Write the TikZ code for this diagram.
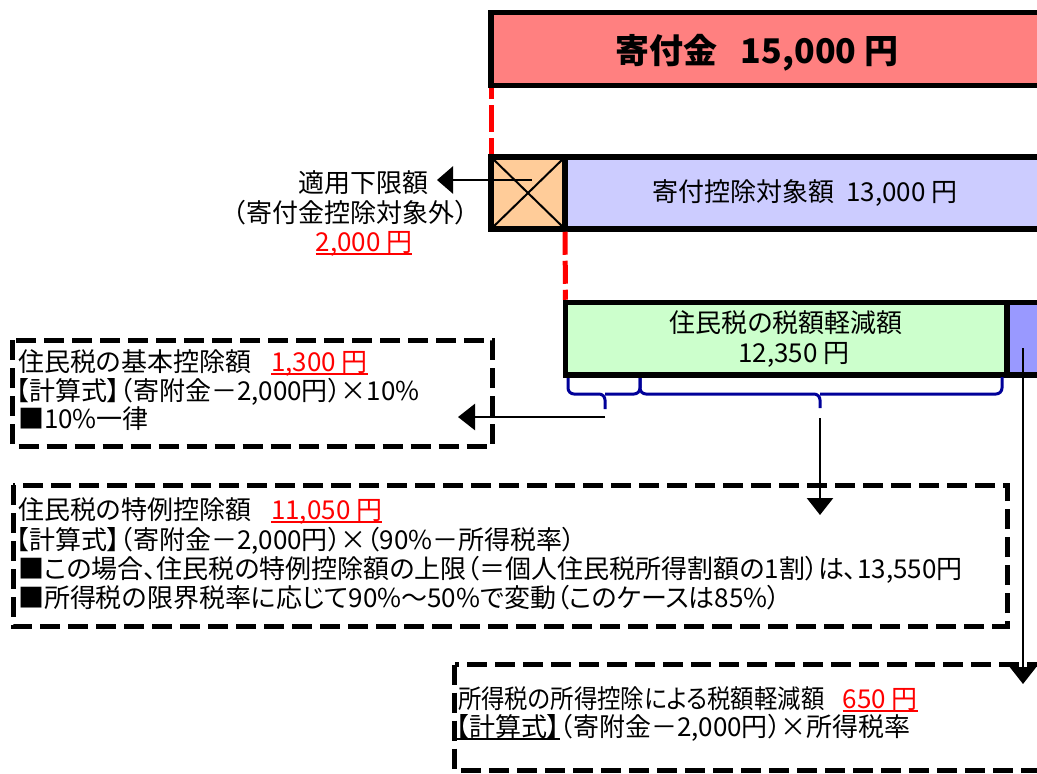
\documentclass[tikz,border=0pt]{standalone}
\usepackage{fontspec}
\setmainfont{Noto Sans CJK JP}[RawFeature=+palt]
\newfontfamily\jpfull{Noto Sans CJK JP}
\usetikzlibrary{arrows.meta}
\definecolor{boxred}{HTML}{FF8080}
\definecolor{boxorange}{HTML}{FFCC99}
\definecolor{boxblue}{HTML}{CCCCFF}
\definecolor{boxgreen}{HTML}{CCFFCC}
\definecolor{boxpurple}{HTML}{9999FF}
\definecolor{bracenavy}{HTML}{000099}
\definecolor{txtred}{HTML}{FF0000}
\newcommand{\myul}[1]{\leavevmode\setbox0=\hbox{#1}\rlap{\rule[-4pt]{\wd0}{1.8pt}}\box0}
\newcommand{\redul}[1]{{\color{txtred}\myul{#1}}}
\begin{document}
\begin{tikzpicture}[x=1pt,y=-1pt,
  solidbox/.style={draw=black, line width=5.5pt, rectangle, inner sep=0pt, outer sep=0pt, anchor=north west},
  dashbox/.style={draw=black, line width=5pt, dash pattern=on 20pt off 8pt},
  reddash/.style={draw=txtred, line width=5pt},
  txt/.style={font=\fontsize{26}{30}\selectfont, inner sep=0pt, outer sep=0pt},
  arr/.style={draw=black, line width=2.6pt, -{Triangle[length=17pt,width=26pt]}},
  bracestyle/.style={draw=bracenavy, line width=3pt, rounded corners=6pt}]
\path[use as bounding box, clip] (0,0) rectangle (1037,774);

% top boxes
\node[solidbox, fill=boxred, minimum width=569pt, minimum height=73pt] (top) at (491,12.5) {};
\node[txt, font=\fontsize{34}{40}\selectfont\bfseries, anchor=base west] (ttl) at (615,63) {寄付金\hspace{24pt}15,000 円};

\node[solidbox, fill=boxblue, minimum width=495pt, minimum height=72pt] (blue) at (565,157) {};
\node[solidbox, fill=boxorange, minimum width=74pt, minimum height=72pt] (orange) at (491,157) {};
\draw[line width=2pt] (orange.north west) -- (orange.south east);
\draw[line width=2pt] (orange.north east) -- (orange.south west);
\node[txt, anchor=base] (bluetxt) at (805,201) {寄付控除対象額\ \ 13,000 円};

\node[solidbox, fill=boxgreen, minimum width=441.5pt, minimum height=72.5pt] (green) at (565.5,302.5) {};
\node[solidbox, fill=boxpurple, minimum width=60pt, minimum height=72.5pt] (purple) at (1007,302.5) {};
\node[txt, anchor=base] (gt1) at (786,332) {住民税の税額軽減額};
\node[txt, anchor=base] (gt2) at (794,362) {12,350 円};

% red dashed guide lines
\draw[reddash, dash pattern=on 27pt off 6pt, dash phase=16pt, shorten <=2.75pt, shorten >=2.75pt] (top.south west) -- (orange.north west);
\draw[reddash, dash pattern=on 23pt off 6pt, shorten <=2.75pt, shorten >=2.75pt] (orange.south east) -- (green.north west);

% left label
\node[txt, anchor=base] (lab1) at (363,192) {適用下限額};
\node[txt, anchor=base, font=\fontsize{26}{30}\selectfont\jpfull] (lab2) at (350,222) {（寄付金控除対象外）};
\node[txt, anchor=base] (lab3) at (364,251) {\redul{2,000 円}};
\coordinate (a1s) at (532,180);
\coordinate (a1e) at (437,180);
\draw[arr, -{Triangle[length=16pt,width=27pt]}] (a1s) -- (a1e);

% braces
\draw[bracestyle] (568,378) |- (605,394) -- (605,409);
\draw[bracestyle] (605,394) -| (640,378);
\draw[bracestyle] (640,378) |- (820,394) -- (820,408);
\draw[bracestyle] (820,394) -| (1002,377);

% dashed boxes
\draw[dashbox] (12.5,340) rectangle (492,446);
\draw[dashbox] (13,485) rectangle (1007,626);
\draw[dashbox] (454.5,664.5) rectangle (1065,770);

% arrows from braces
\coordinate (b1s) at (605,417);
\coordinate (b1e) at (458,417);
\draw[arr] (b1s) -- (b1e);
\coordinate (b2s) at (820,418);
\coordinate (b2e) at (820,515);
\draw[arr] (b2s) -- (b2e);
\coordinate (b3s) at (1023,348);
\coordinate (b3e) at (1023,684);
\draw[arr] (b3s) -- (b3e);

% box 1 text
\node[txt, anchor=base west] (k1) at (18,371) {住民税の基本控除額\hspace{20pt}\redul{1,300 円}};
\node[txt, anchor=base west] (k2) at (16,400) {【計算式】（寄附金－2,000円）×10\%};
\node[txt, anchor=base west] (k3) at (18,428) {■10\%一律};

% box 2 text
\node[txt, anchor=base west] (t1) at (18,519) {住民税の特例控除額\hspace{20pt}\redul{11,050 円}};
\node[txt, anchor=base west] (t2) at (16,549) {【計算式】（寄附金－2,000円）×（90\%－所得税率）};
\node[txt, anchor=base west] (t3) at (18,578) {■この場合、住民税の特例控除額の上限（＝個人住民税所得割額の1割）は、13,550円};
\node[txt, anchor=base west] (t4) at (18,607) {■所得税の限界税率に応じて90\%～50\%で変動（このケースは85\%）};

% box 3 text
\node[txt, anchor=base west] (s1) at (458,708) {\scalebox{0.9}[1]{所得税の所得控除による税額軽減額}\hspace{18pt}\redul{650 円}};
\node[txt, anchor=base west] (s2) at (456,736) {\myul{【計算式】}（寄附金－2,000円）×所得税率};
\end{tikzpicture}
\end{document}
